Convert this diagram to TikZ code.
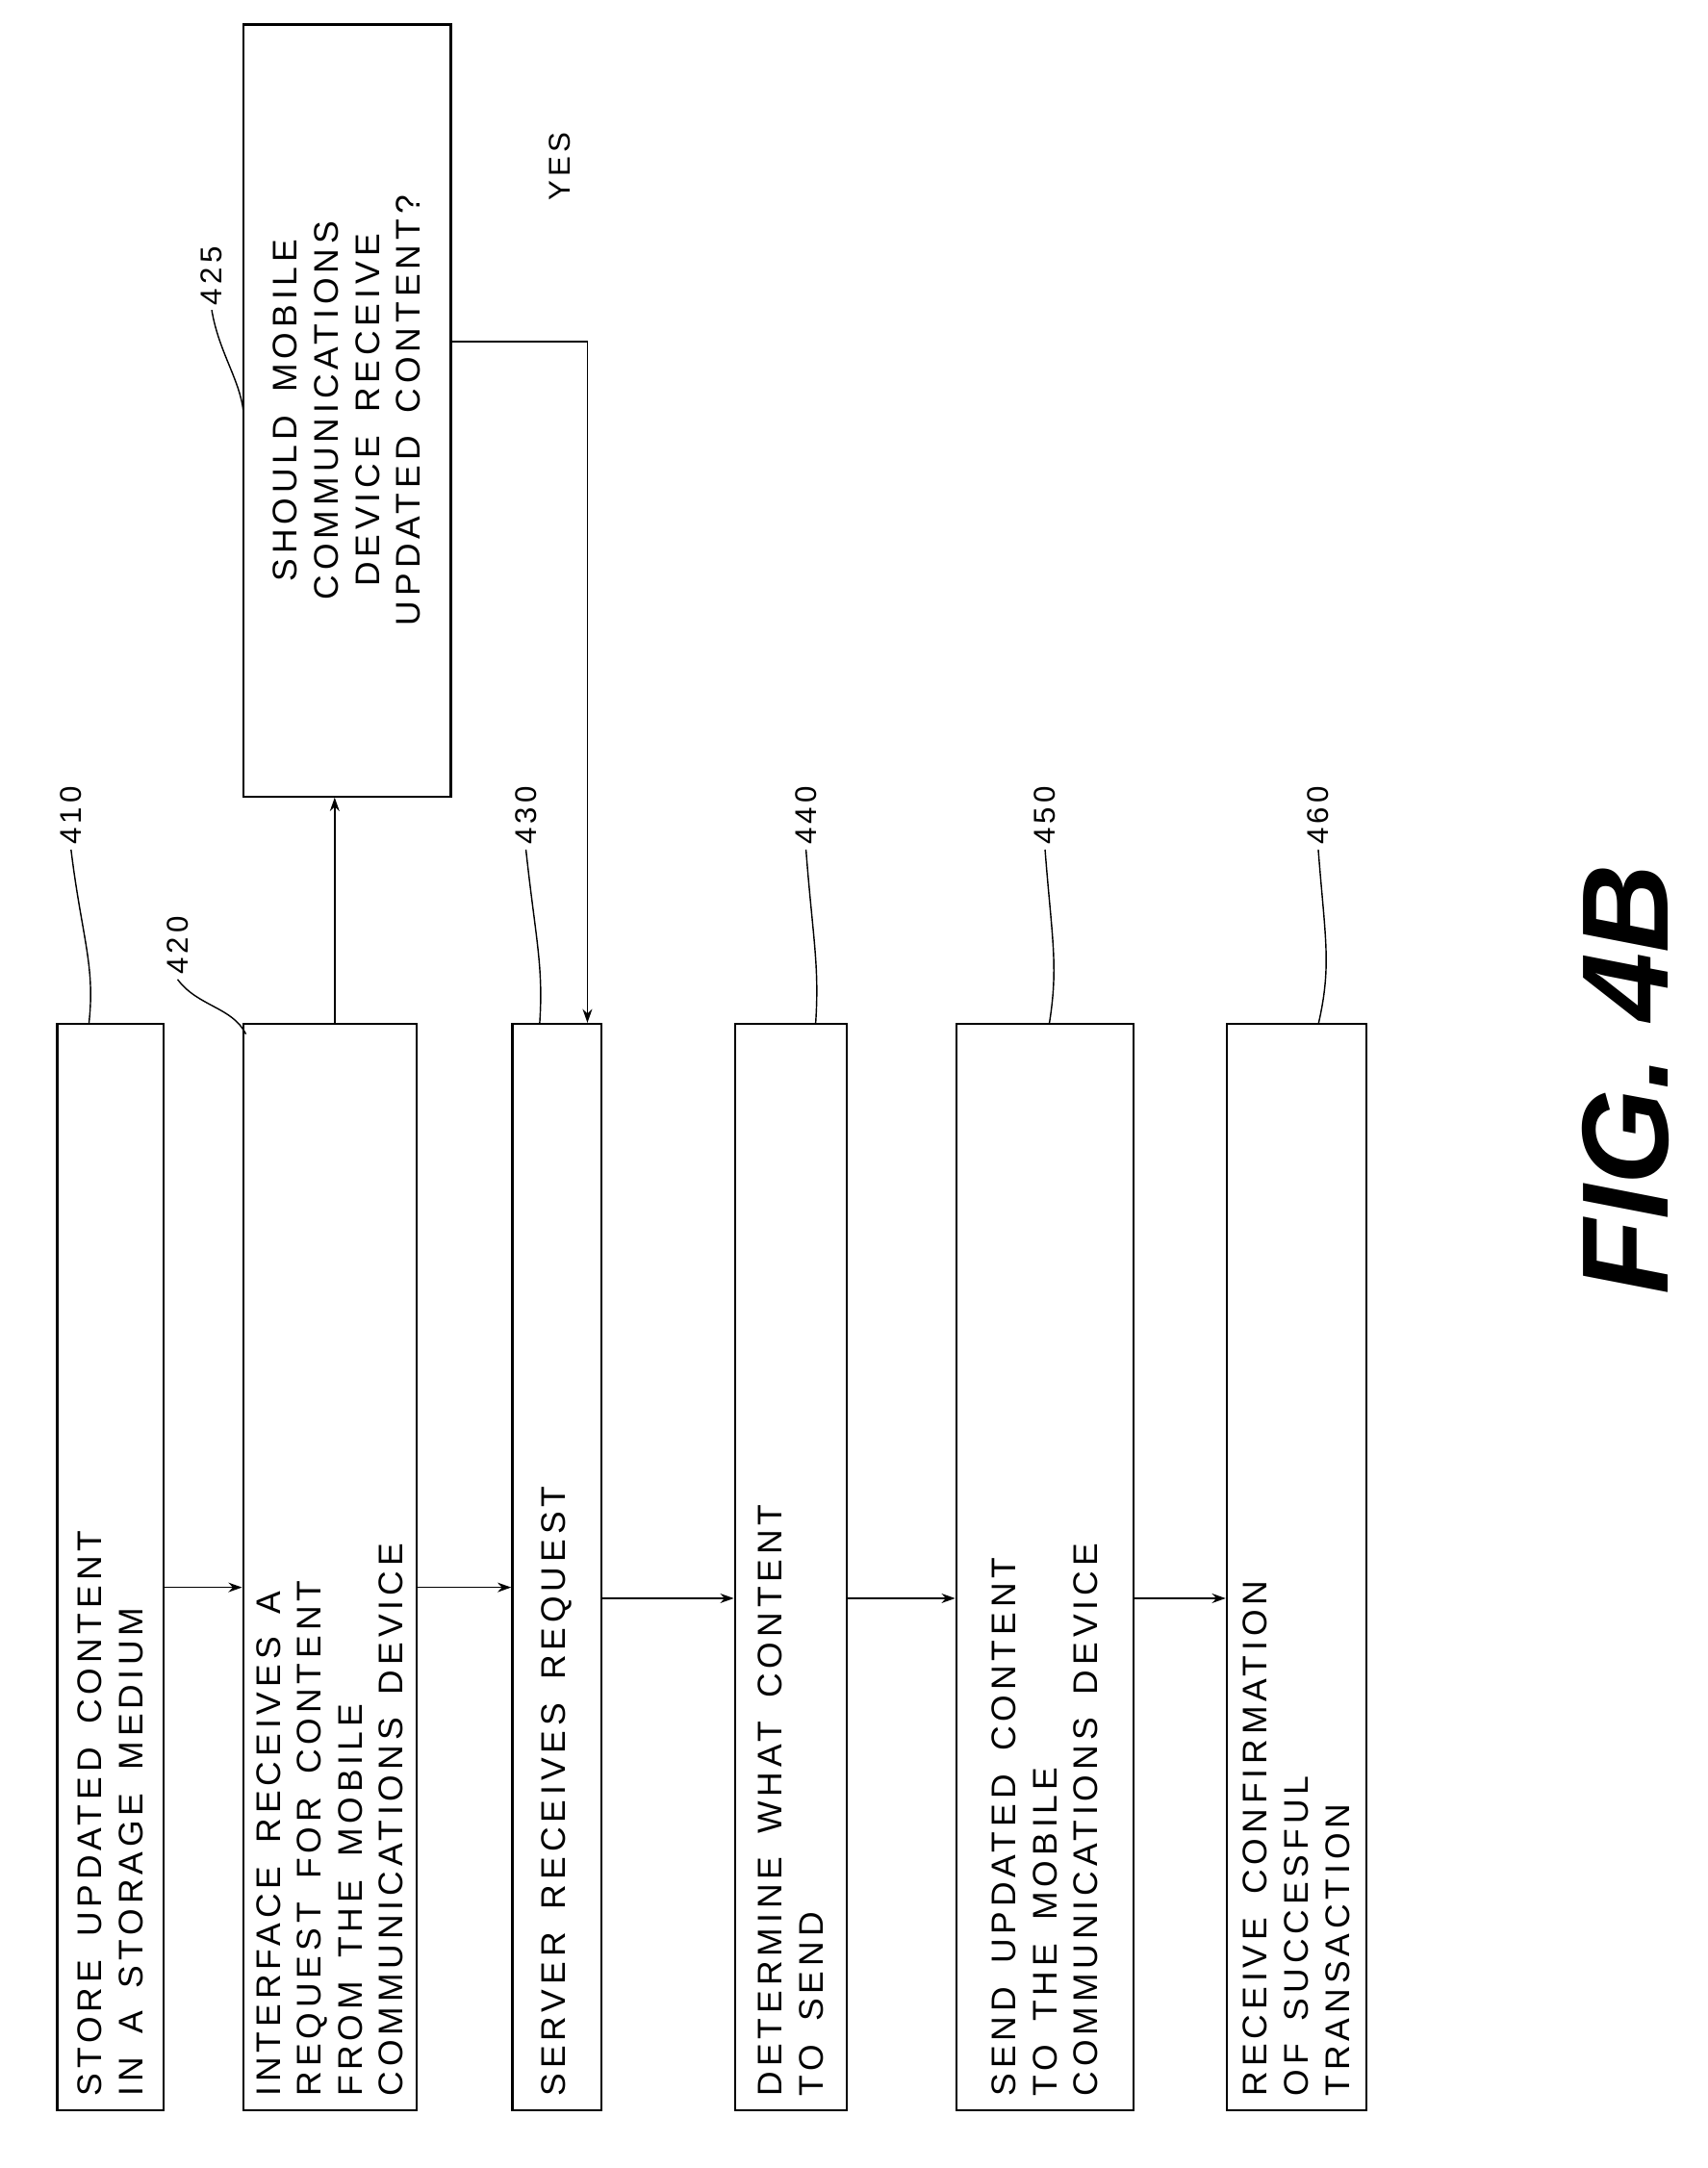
\documentclass[tikz,border=0pt]{standalone}
\usepackage{fontspec}
\setmainfont{Liberation Sans}
\newfontfamily\wide[LetterSpace=14]{Liberation Sans}
\newcommand\boxfont{\wide\fontsize{25}{30}\selectfont}
\newcommand\lblfont{\wide\fontsize{22}{26}\selectfont}
\newcommand\ws{\hspace{17pt}}
\usetikzlibrary{arrows.meta}
\begin{document}
\begin{tikzpicture}[x=1pt,y=1pt,
  box/.style={draw,line width=1.6pt,rotate=90,inner sep=0pt,font=\boxfont,text width=#1,align=left},
  arr/.style={line width=1.2pt,-{Stealth[length=10pt,width=7pt]}},
  lbl/.style={rotate=90,font=\lblfont},
  lead/.style={line width=1pt}]
\useasboundingbox (0,0) rectangle (1250,1587);
\node[box=775pt,minimum width=795pt,minimum height=78pt] (b410) at (81,440) {STORE\ws UPDATED\ws CONTENT\\IN\ws A\ws STORAGE\ws MEDIUM};
\node[box=775pt,minimum width=795pt,minimum height=127pt] (b420) at (241.5,440) {INTERFACE\ws RECEIVES\ws A\\REQUEST\ws FOR\ws CONTENT\\FROM\ws THE\ws MOBILE\\COMMUNICATIONS\ws DEVICE};
\node[box=775pt,minimum width=795pt,minimum height=65pt] (b430) at (407.5,440) {SERVER\ws RECEIVES\ws REQUEST};
\node[box=775pt,minimum width=795pt,minimum height=82pt] (b440) at (579,440) {DETERMINE\ws WHAT\ws CONTENT\\TO\ws SEND};
\node[box=775pt,minimum width=795pt,minimum height=130pt] (b450) at (765,440) {SEND\ws UPDATED\ws CONTENT\\TO\ws THE\ws MOBILE\\COMMUNICATIONS\ws DEVICE};
\node[box=775pt,minimum width=795pt,minimum height=102pt] (b460) at (949,440) {RECEIVE\ws CONFIRMATION\\OF\ws SUCCESFUL\\TRANSACTION};
\node[box=550pt,align=center,minimum width=565pt,minimum height=152pt] (b425) at (254,1286.5) {SHOULD\ws MOBILE\\COMMUNICATIONS\\DEVICE\ws RECEIVE\\UPDATED\ws CONTENT?};
\coordinate (ya) at (0,425);
\coordinate (yb) at (0,417);
\draw[arr] (b410.south |- ya) -- (b420.north |- ya);
\draw[arr] (b420.south |- ya) -- (b430.north |- ya);
\draw[arr] (b430.south |- yb) -- (b440.north |- yb);
\draw[arr] (b440.south |- yb) -- (b450.north |- yb);
\draw[arr] (b450.south |- yb) -- (b460.north |- yb);
\coordinate (up) at (245,0);
\draw[arr] (b420.east -| up) -- (b425.west -| up);
\coordinate (yy) at (0,1337);
\coordinate (xx) at (430,0);
\draw[arr] (b425.south |- yy) -- (xx |- yy) -- (xx |- b430.east);
\node[lbl] (yes) at (410,1465) {YES};
\node[lbl] (l410) at (52,990) {410};
\node[lbl] (l420) at (130,895) {420};
\node[lbl] (l425) at (155,1385) {425};
\node[lbl] (l430) at (385,990) {430};
\node[lbl] (l440) at (590,990) {440};
\node[lbl] (l450) at (765,990) {450};
\node[lbl] (l460) at (965,990) {460};
\draw[lead] (l410.west) .. controls (60,900) and (70,880) .. (65,837);
\draw[lead] (l420.west) .. controls (145,850) and (170,850) .. (180,830);
\draw[lead] (l425.west) .. controls (160,1330) and (175,1310) .. (178,1287);
\draw[lead] (l430.west) .. controls (392,900) and (398,880) .. (395,837);
\draw[lead] (l440.west) .. controls (595,900) and (600,880) .. (597,837);
\draw[lead] (l450.west) .. controls (770,900) and (775,880) .. (768,837);
\draw[lead] (l460.west) .. controls (970,900) and (975,880) .. (965,837);
\node[rotate=90,font=\fontsize{90}{90}\selectfont\bfseries\itshape] (fig) at (1190,797) {FIG. 4B};
\end{tikzpicture}
\end{document}
